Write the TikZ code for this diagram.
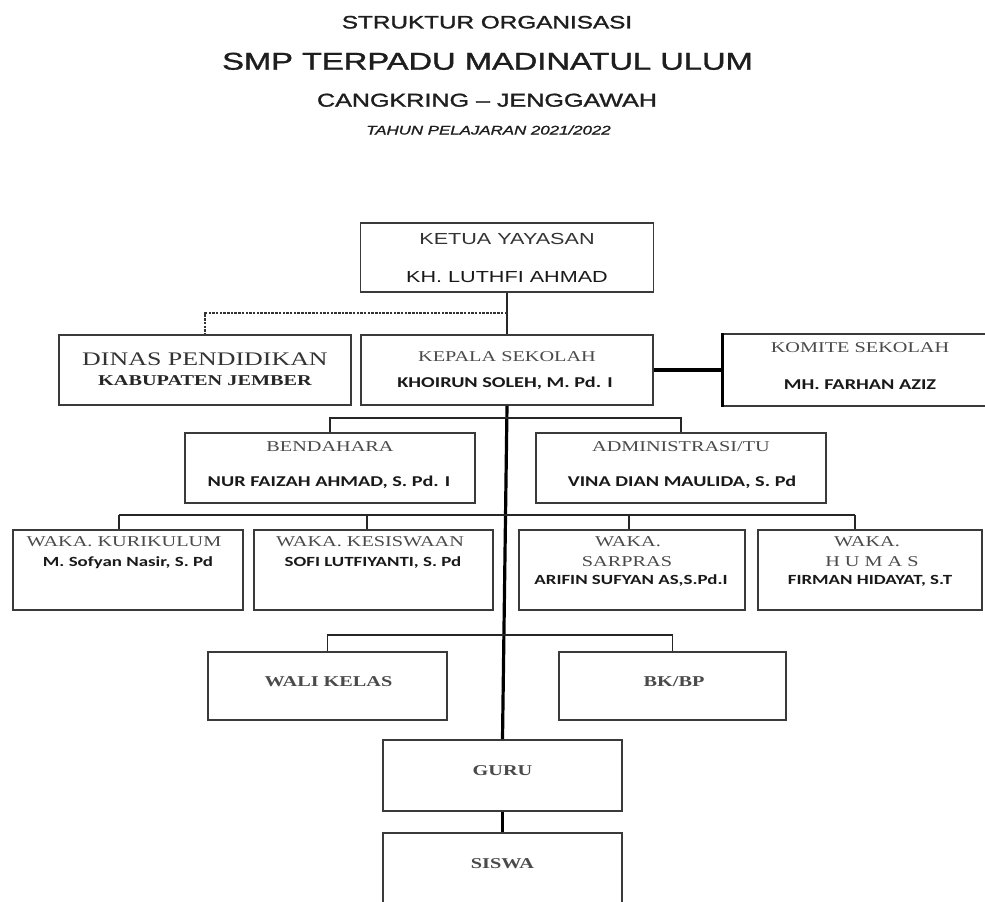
\documentclass[tikz,border=0pt]{standalone}
\usepackage{fontspec}
\usepackage{graphicx}
\setmainfont{Liberation Serif}
\newfontfamily\carlito{Carlito}
\newfontfamily\lsans{Liberation Sans}
\newfontfamily\lsansh{Liberation Sans}[FakeBold=1.2]
\newcommand\sx[1]{\scalebox{1.35}[1]{#1}}
\definecolor{boxc}{HTML}{3A3A3A}
\definecolor{titc}{HTML}{4A4A4A}
\definecolor{headc}{HTML}{1E1E1E}
\begin{document}
\begin{tikzpicture}[x=1pt,y=-1pt,
  bx/.style n args={2}{draw=boxc,line width=1.6pt,minimum width=#1,minimum height=#2,inner sep=0pt,fill=white},
  tl/.style={inner sep=0pt,text depth=0pt,text height=9.9pt,text=titc,font=\fontsize{15}{18}\selectfont\rmfamily},
  nm/.style={inner sep=0pt,text depth=0pt,text height=9.7pt,text=black!90,font=\fontsize{15}{18}\selectfont\carlito\bfseries},
  hd/.style={inner sep=0pt,text depth=0pt,text=headc},
  ks/.style={inner sep=0pt,text depth=0pt,text height=11.5pt,text=black!80,font=\fontsize{16}{19}\selectfont\lsans},
  ln/.style={draw=black!85,line width=1.4pt},
  trunk/.style={draw=black,line width=3.2pt},
]
\useasboundingbox (0,0) rectangle (985,902);
\fill[white] (0,0) rectangle (985,902);
\clip (0,0) rectangle (985,902);

% titles
\node[hd,text height=12.9pt,font=\fontsize{18}{22}\selectfont\lsansh] (t1) at (487,22) {\sx{STRUKTUR ORGANISASI}};
\node[hd,text height=17.3pt,font=\fontsize{24.2}{29}\selectfont\lsansh] (t2) at (487.5,61) {\sx{SMP TERPADU MADINATUL ULUM}};
\node[hd,text height=13.3pt,font=\fontsize{18.6}{22}\selectfont\lsansh] (t3) at (487,100) {\sx{CANGKRING – JENGGAWAH}};
\node[hd,text height=9pt,font=\fontsize{12.5}{15}\selectfont\lsansh\itshape] (t4) at (488.5,130) {\sx{TAHUN PELAJARAN 2021/2022}};

% boxes
\node[bx={293}{69}] (ketua) at (507,257.5) {};
\node[bx={292}{70}] (dinas) at (205,370) {};
\node[bx={292}{70}] (kepala) at (507,370) {};
\node[bx={267}{72}] (komite) at (856.5,370) {};
\node[bx={290}{70}] (bend) at (330,468) {};
\node[bx={290}{70}] (adm) at (681,468) {};
\node[bx={230}{80}] (kur) at (128,570) {};
\node[bx={239}{80}] (kes) at (373.5,570) {};
\node[bx={226}{80}] (sar) at (632,570) {};
\node[bx={224}{80}] (hum) at (870,570) {};
\node[bx={239}{68}] (wali) at (327.5,686) {};
\node[bx={227}{68}] (bk) at (672.5,686) {};
\node[bx={239}{71}] (guru) at (502.5,775.5) {};
\node[bx={239}{71}] (siswa) at (502.5,868.5) {};

% connectors
\coordinate (dj) at (507,313);
\draw[ln] (ketua.south) -- (kepala.north);
\draw[draw=black!80,line width=1.2pt,dash pattern=on 2.5pt off 1.2pt] (dj) -| (dinas.north);
\draw[trunk] (kepala.east) -- (komite.west);
\draw[line width=3pt] (komite.north west) -- (komite.south west);
\draw[trunk] (kepala.south) -- (guru.north);
\draw[trunk] (guru.south) -- (siswa.north);
\coordinate (hb) at (507,418);
\draw[ln] (bend.north) |- (hb) -| (adm.north);
\coordinate (w1) at (119,515);
\coordinate (w2) at (367,515);
\coordinate (w3) at (629,515);
\coordinate (w4) at (855,515);
\draw[ln] (w1) -- (w4);
\draw[ln] (w1) -- (w1 |- kur.north);
\draw[ln] (w2) -- (w2 |- kes.north);
\draw[ln] (w3) -- (w3 |- sar.north);
\draw[ln] (w4) -- (w4 |- hum.north);
\coordinate (hw) at (505,635);
\draw[ln] (wali.north) |- (hw) -| (bk.north);

% texts
\node[ks] (ketuaA) at (507,239) {\sx{KETUA YAYASAN}};
\node[ks,text=black!90] (ketuaB) at (507,277) {\sx{KH. LUTHFI AHMAD}};
\node[tl,text=black!80,text height=12.7pt,font=\fontsize{19.2}{23}\selectfont\rmfamily] (dinasA) at (205,359) {\sx{DINAS PENDIDIKAN}};
\node[tl,text=black!85,font=\fontsize{15}{18}\selectfont\rmfamily\bfseries] (dinasB) at (205,381) {\sx{KABUPATEN JEMBER}};
\node[tl] (kepalaA) at (507,357) {\sx{KEPALA SEKOLAH}};
\node[nm] (kepalaB) at (505,383) {\sx{KHOIRUN SOLEH, M. Pd. I}};
\node[tl] (komiteA) at (860,348) {\sx{KOMITE SEKOLAH}};
\node[nm] (komiteB) at (860,385) {\sx{MH. FARHAN AZIZ}};
\node[tl] (bendA) at (330,447) {\sx{BENDAHARA}};
\node[nm] (bendB) at (329,482) {\sx{NUR FAIZAH AHMAD, S. Pd. I}};
\node[tl] (admA) at (681,447) {\sx{ADMINISTRASI/TU}};
\node[nm] (admB) at (682,482) {\sx{VINA DIAN MAULIDA, S. Pd}};
\node[tl] (kurA) at (124,542) {\sx{WAKA. KURIKULUM}};
\node[nm,font=\fontsize{14}{17}\selectfont\carlito\bfseries,text height=9pt] (kurB) at (128,562) {\sx{M. Sofyan Nasir, S. Pd}};
\node[tl] (kesA) at (370,542) {\sx{WAKA. KESISWAAN}};
\node[nm,font=\fontsize{14}{17}\selectfont\carlito\bfseries,text height=9pt] (kesB) at (373,562) {\sx{SOFI LUTFIYANTI, S. Pd}};
\node[tl] (sarA) at (628,542) {\sx{WAKA.}};
\node[tl] (sarB) at (627,562) {\sx{SARPRAS}};
\node[nm,font=\fontsize{14}{17}\selectfont\carlito\bfseries,text height=9pt] (sarC) at (631,580) {\sx{ARIFIN SUFYAN AS,S.Pd.I}};
\node[tl] (humA) at (867,542) {\sx{WAKA.}};
\node[tl] (humB) at (872,562) {\sx{H U M A S}};
\node[nm,font=\fontsize{14}{17}\selectfont\carlito\bfseries,text height=9pt] (humC) at (870,580) {\sx{FIRMAN HIDAYAT, S.T}};
\node[tl,font=\fontsize{15}{18}\selectfont\rmfamily\bfseries,text=titc] (waliA) at (328.5,682) {\sx{WALI KELAS}};
\node[tl,font=\fontsize{15}{18}\selectfont\rmfamily\bfseries,text=titc] (bkA) at (674,682) {\sx{BK/BP}};
\node[tl,font=\fontsize{15}{18}\selectfont\rmfamily\bfseries,text=titc] (guruA) at (502.5,771) {\sx{GURU}};
\node[tl,font=\fontsize{15}{18}\selectfont\rmfamily\bfseries,text=titc] (siswaA) at (502.5,864) {\sx{SISWA}};
\end{tikzpicture}
\end{document}
